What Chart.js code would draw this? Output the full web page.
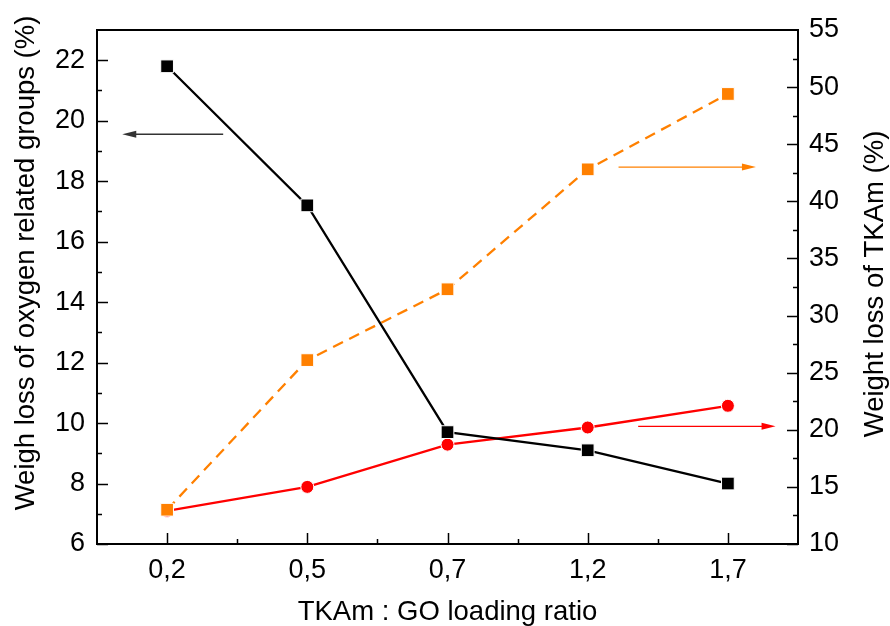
<!DOCTYPE html>
<html>
<head>
<meta charset="utf-8">
<script src="https://cdn.jsdelivr.net/npm/chart.js@4/dist/chart.umd.min.js"></script>
<style>
  html, body { margin: 0; padding: 0; background: #fff; }
  #wrap { width: 890px; height: 626px; position: relative; }
</style>
</head>
<body>
<div id="wrap"><canvas id="chart"></canvas></div>
<script>
// data
const categories = ['0,2', '0,5', '0,7', '1,2', '1,7'];
const oxygenLoss = [21.8, 17.2, 9.7, 9.1, 8.0];      // left axis, black
const tkamLossOrange = [13.0, 26.1, 32.3, 42.8, 49.4]; // right axis, orange dashed
const tkamLossRed = [12.9, 15.0, 18.7, 20.2, 22.1];    // right axis, red
const leftTicks = [6, 8, 10, 12, 14, 16, 18, 20, 22];
const rightTicks = [10, 15, 20, 25, 30, 35, 40, 45, 50, 55];

const leftTitle = 'Weigh loss of oxygen related groups (%)';
const rightTitle = 'Weight loss of TKAm (%)';

const FONT = "'Liberation Sans', Arial, sans-serif";

// arrows pointing to the axis of each curve: [x from, x to] in category index, y in axis units
const arrows = [
    { axis: 'y', x1: 0.40, x2: -0.32, y: 19.55, color: '#333333', width: 1.5 },
    { axis: 'y1', x1: 3.22, x2: 4.20, y: 43.0, color: '#ff8000', width: 1.2 },
    { axis: 'y1', x1: 3.36, x2: 4.34, y: 20.3, color: '#ff0000', width: 1.2 }
];

// inward tick marks, top frame line, arrows and the two y titles (both read bottom-to-top)
const framePlugin = {
    id: 'frame',
    afterDraw(chart) {
        const ctx = chart.ctx;
        const a = chart.chartArea;
        const x = chart.scales.x, yl = chart.scales.y, yr = chart.scales.y1;
        ctx.save();
        ctx.strokeStyle = '#000';
        ctx.lineWidth = 2;
        ctx.beginPath();
        ctx.moveTo(a.left - 1, a.top);
        ctx.lineTo(a.right + 1, a.top);
        ctx.stroke();

        ctx.lineWidth = 1.5;
        ctx.beginPath();
        for (let v = 6; v <= 22; v++) {
            const py = Math.round(yl.getPixelForValue(v)) + 0.5;
            ctx.moveTo(a.left, py);
            ctx.lineTo(a.left + (v % 2 === 0 ? 11 : 5), py);
        }
        for (let v = 10; v <= 52.5; v += 2.5) {
            const py = Math.round(yr.getPixelForValue(v)) + 0.5;
            ctx.moveTo(a.right, py);
            ctx.lineTo(a.right - (v % 5 === 0 ? 11 : 5), py);
        }
        for (let i = 0; i < categories.length; i++) {
            let px = Math.round(x.getPixelForValue(i)) + 0.5;
            ctx.moveTo(px, a.bottom);
            ctx.lineTo(px, a.bottom - 11);
            if (i < categories.length - 1) {
                px = Math.round(x.getPixelForValue(i + 0.5)) + 0.5;
                ctx.moveTo(px, a.bottom);
                ctx.lineTo(px, a.bottom - 5);
            }
        }
        ctx.stroke();

        arrows.forEach(function(ar) {
            const sc = chart.scales[ar.axis];
            const py = sc.getPixelForValue(ar.y);
            const p1 = x.getPixelForValue(ar.x1);
            const p2 = x.getPixelForValue(ar.x2);
            const dir = p2 > p1 ? 1 : -1;
            ctx.strokeStyle = ar.color;
            ctx.fillStyle = ar.color;
            ctx.lineWidth = ar.width;
            ctx.beginPath();
            ctx.moveTo(p1, py);
            ctx.lineTo(p2 - dir * 10, py);
            ctx.stroke();
            ctx.beginPath();
            ctx.moveTo(p2, py);
            ctx.lineTo(p2 - dir * 14, py - 3.5);
            ctx.lineTo(p2 - dir * 14, py + 3.5);
            ctx.closePath();
            ctx.fill();
        });

        ctx.fillStyle = '#000';
        ctx.font = '27.5px ' + FONT;
        ctx.textAlign = 'center';
        ctx.textBaseline = 'middle';
        [[leftTitle, 26, 263], [rightTitle, 875, 284]].forEach(function(t) {
            ctx.save();
            ctx.translate(t[1], t[2]);
            ctx.rotate(-Math.PI / 2);
            ctx.fillText(t[0], 0, 0);
            ctx.restore();
        });
        ctx.restore();
    }
};

new Chart(document.getElementById('chart'), {
    type: 'line',
    data: {
        labels: categories,
        datasets: [
            {
                label: 'Oxygen related groups',
                data: oxygenLoss,
                yAxisID: 'y',
                borderColor: '#000000',
                backgroundColor: '#000000',
                borderWidth: 2.3,
                pointStyle: 'rect',
                pointRadius: 9,
                pointBorderColor: '#ffffff',
                pointBorderWidth: 1,
                tension: 0
            },
            {
                label: 'TKAm (orange)',
                data: tkamLossOrange,
                yAxisID: 'y1',
                borderColor: '#ff8000',
                backgroundColor: '#ff8000',
                borderWidth: 2.3,
                borderDash: [11, 7],
                pointStyle: 'rect',
                pointRadius: 9,
                pointBorderColor: '#ffffff',
                pointBorderWidth: 1,
                tension: 0
            },
            {
                label: 'TKAm (red)',
                data: tkamLossRed,
                yAxisID: 'y1',
                borderColor: '#ff0000',
                backgroundColor: '#ff0000',
                borderWidth: 2.3,
                pointStyle: 'circle',
                pointRadius: 6.5,
                pointBorderColor: '#ffffff',
                pointBorderWidth: 1,
                tension: 0
            }
        ]
    },
    options: {
        responsive: true,
        maintainAspectRatio: false,
        animation: false,
        layout: { padding: { top: 30, left: 0, right: 0, bottom: 0 } },
        plugins: {
            legend: { display: false },
            tooltip: { enabled: false }
        },
        scales: {
            x: {
                type: 'category',
                offset: true,
                grid: { display: false, drawTicks: false },
                border: { display: true, color: '#000', width: 2 },
                ticks: { color: '#000', padding: 10, font: { family: FONT, size: 27 } },
                title: {
                    display: true,
                    text: 'TKAm : GO loading ratio',
                    color: '#000',
                    padding: { top: 0, bottom: 0 },
                    font: { family: FONT, size: 27.5, lineHeight: 1 }
                },
                afterFit(scale) { scale.height = 82; }
            },
            y: {
                position: 'left',
                min: 6,
                max: 23,
                grid: { display: false, drawTicks: false },
                border: { display: true, color: '#000', width: 2 },
                ticks: { color: '#000', padding: 12, font: { family: FONT, size: 27 } },
                afterBuildTicks(scale) { scale.ticks = leftTicks.map(v => ({ value: v })); },
                afterFit(scale) { scale.width = 97; }
            },
            y1: {
                position: 'right',
                min: 10,
                max: 55,
                grid: { display: false, drawTicks: false },
                border: { display: true, color: '#000', width: 2 },
                ticks: { color: '#000', padding: 11, font: { family: FONT, size: 27 } },
                afterBuildTicks(scale) { scale.ticks = rightTicks.map(v => ({ value: v })); },
                afterFit(scale) { scale.width = 92; }
            }
        }
    },
    plugins: [framePlugin]
});
</script>
</body>
</html>
